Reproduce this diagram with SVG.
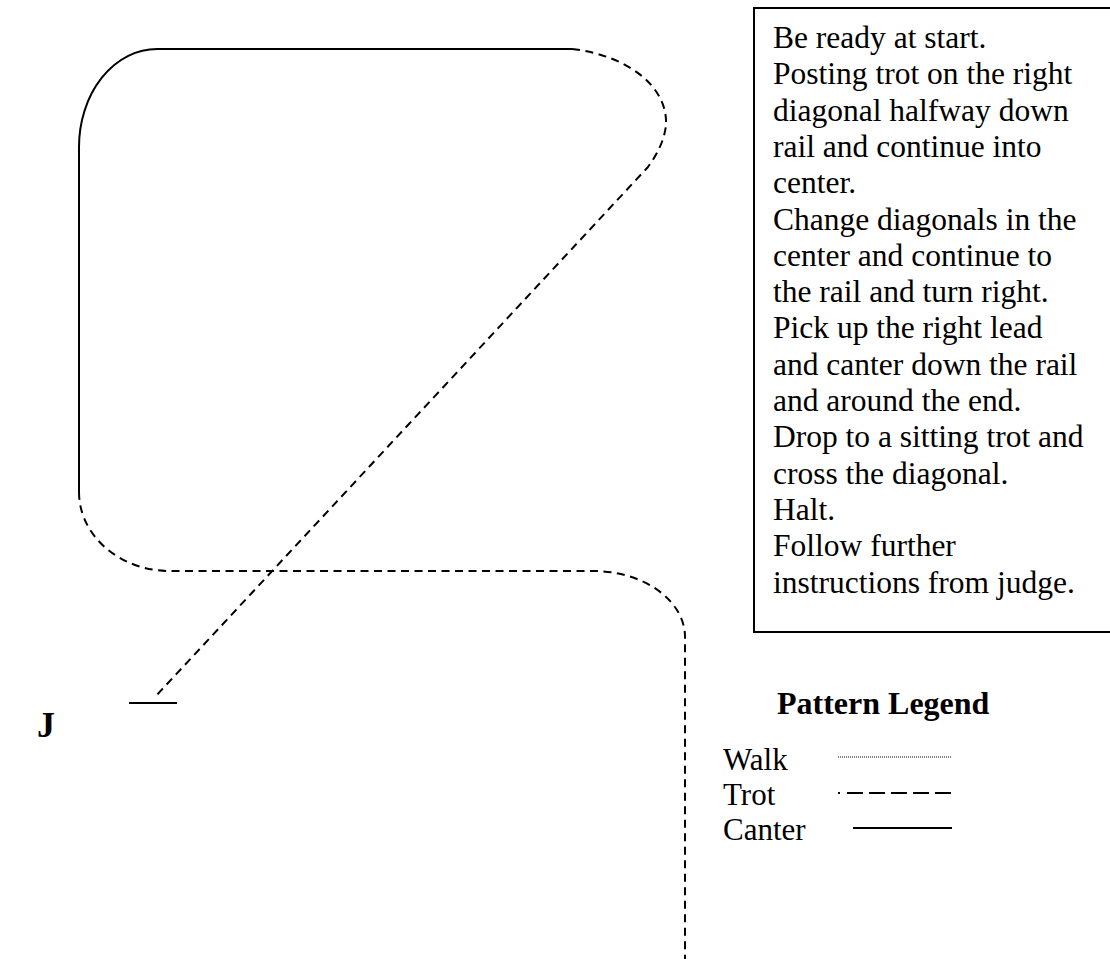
<svg xmlns="http://www.w3.org/2000/svg" width="1110" height="959" viewBox="0 0 1110 959">
<style>
.canter{fill:none;stroke:#000;stroke-width:2}
.trot{fill:none;stroke:#000;stroke-width:2;stroke-dasharray:8 5.5}
.walk{fill:none;stroke:#000;stroke-width:1;stroke-dasharray:1 1}
.t{font-family:"Liberation Serif","Times New Roman",serif;fill:#000}
.main{font-size:31.5px}
.leg{font-size:31px}
.b{font-weight:bold}
</style>
<rect width="1110" height="959" fill="#fff"/>
<g id="connectors">
<path class="canter" d="M79,147 A78,98 0 0 1 157,49 L572,49"/>
<path class="canter" d="M79,147 L79,492"/>
<path class="trot" d="M572,49 C625,55 668,85 666,125 Q664,145 648,167 L155,697"/>
<path class="trot" d="M79,492 A91,79 0 0 0 170,571 L593,571 A92,66 0 0 1 685,637 L685,959"/>
<path class="canter" d="M129,703 L177,703"/>
</g>
<g id="label-J"><text class="t b" x="37" y="737" style="font-size:36px">J</text></g>
<g id="instructions">
<rect x="754" y="8" width="400" height="624" fill="none" stroke="#000" stroke-width="2"/>
<text class="t main">
<tspan x="773" y="48">Be ready at start.</tspan>
<tspan x="773" y="84.3">Posting trot on the right</tspan>
<tspan x="773" y="120.6">diagonal halfway down</tspan>
<tspan x="773" y="156.9">rail and continue into</tspan>
<tspan x="773" y="193.2">center.</tspan>
<tspan x="773" y="229.5">Change diagonals in the</tspan>
<tspan x="773" y="265.8">center and continue to</tspan>
<tspan x="773" y="302.1">the rail and turn right.</tspan>
<tspan x="773" y="338.4">Pick up the right lead</tspan>
<tspan x="773" y="374.7">and canter down the rail</tspan>
<tspan x="773" y="411">and around the end.</tspan>
<tspan x="773" y="447.3">Drop to a sitting trot and</tspan>
<tspan x="773" y="483.6">cross the diagonal.</tspan>
<tspan x="773" y="519.9">Halt.</tspan>
<tspan x="773" y="556.2">Follow further</tspan>
<tspan x="773" y="592.5">instructions from judge.</tspan>
</text>
</g>
<g id="legend">
<text class="t b" x="777" y="714" style="font-size:32px">Pattern Legend</text>
<text class="t leg" x="723" y="770">Walk</text>
<text class="t leg" x="723" y="805">Trot</text>
<text class="t leg" x="723" y="840">Canter</text>
<line class="walk" x1="838" y1="757" x2="952" y2="757"/>
<line x1="838" y1="793" x2="840" y2="793" stroke="#000" stroke-width="2"/>
<line class="trot" x1="847" y1="793" x2="952" y2="793" style="stroke-dasharray:16 6"/>
<line class="canter" x1="853" y1="828" x2="952" y2="828"/>
</g>
</svg>
